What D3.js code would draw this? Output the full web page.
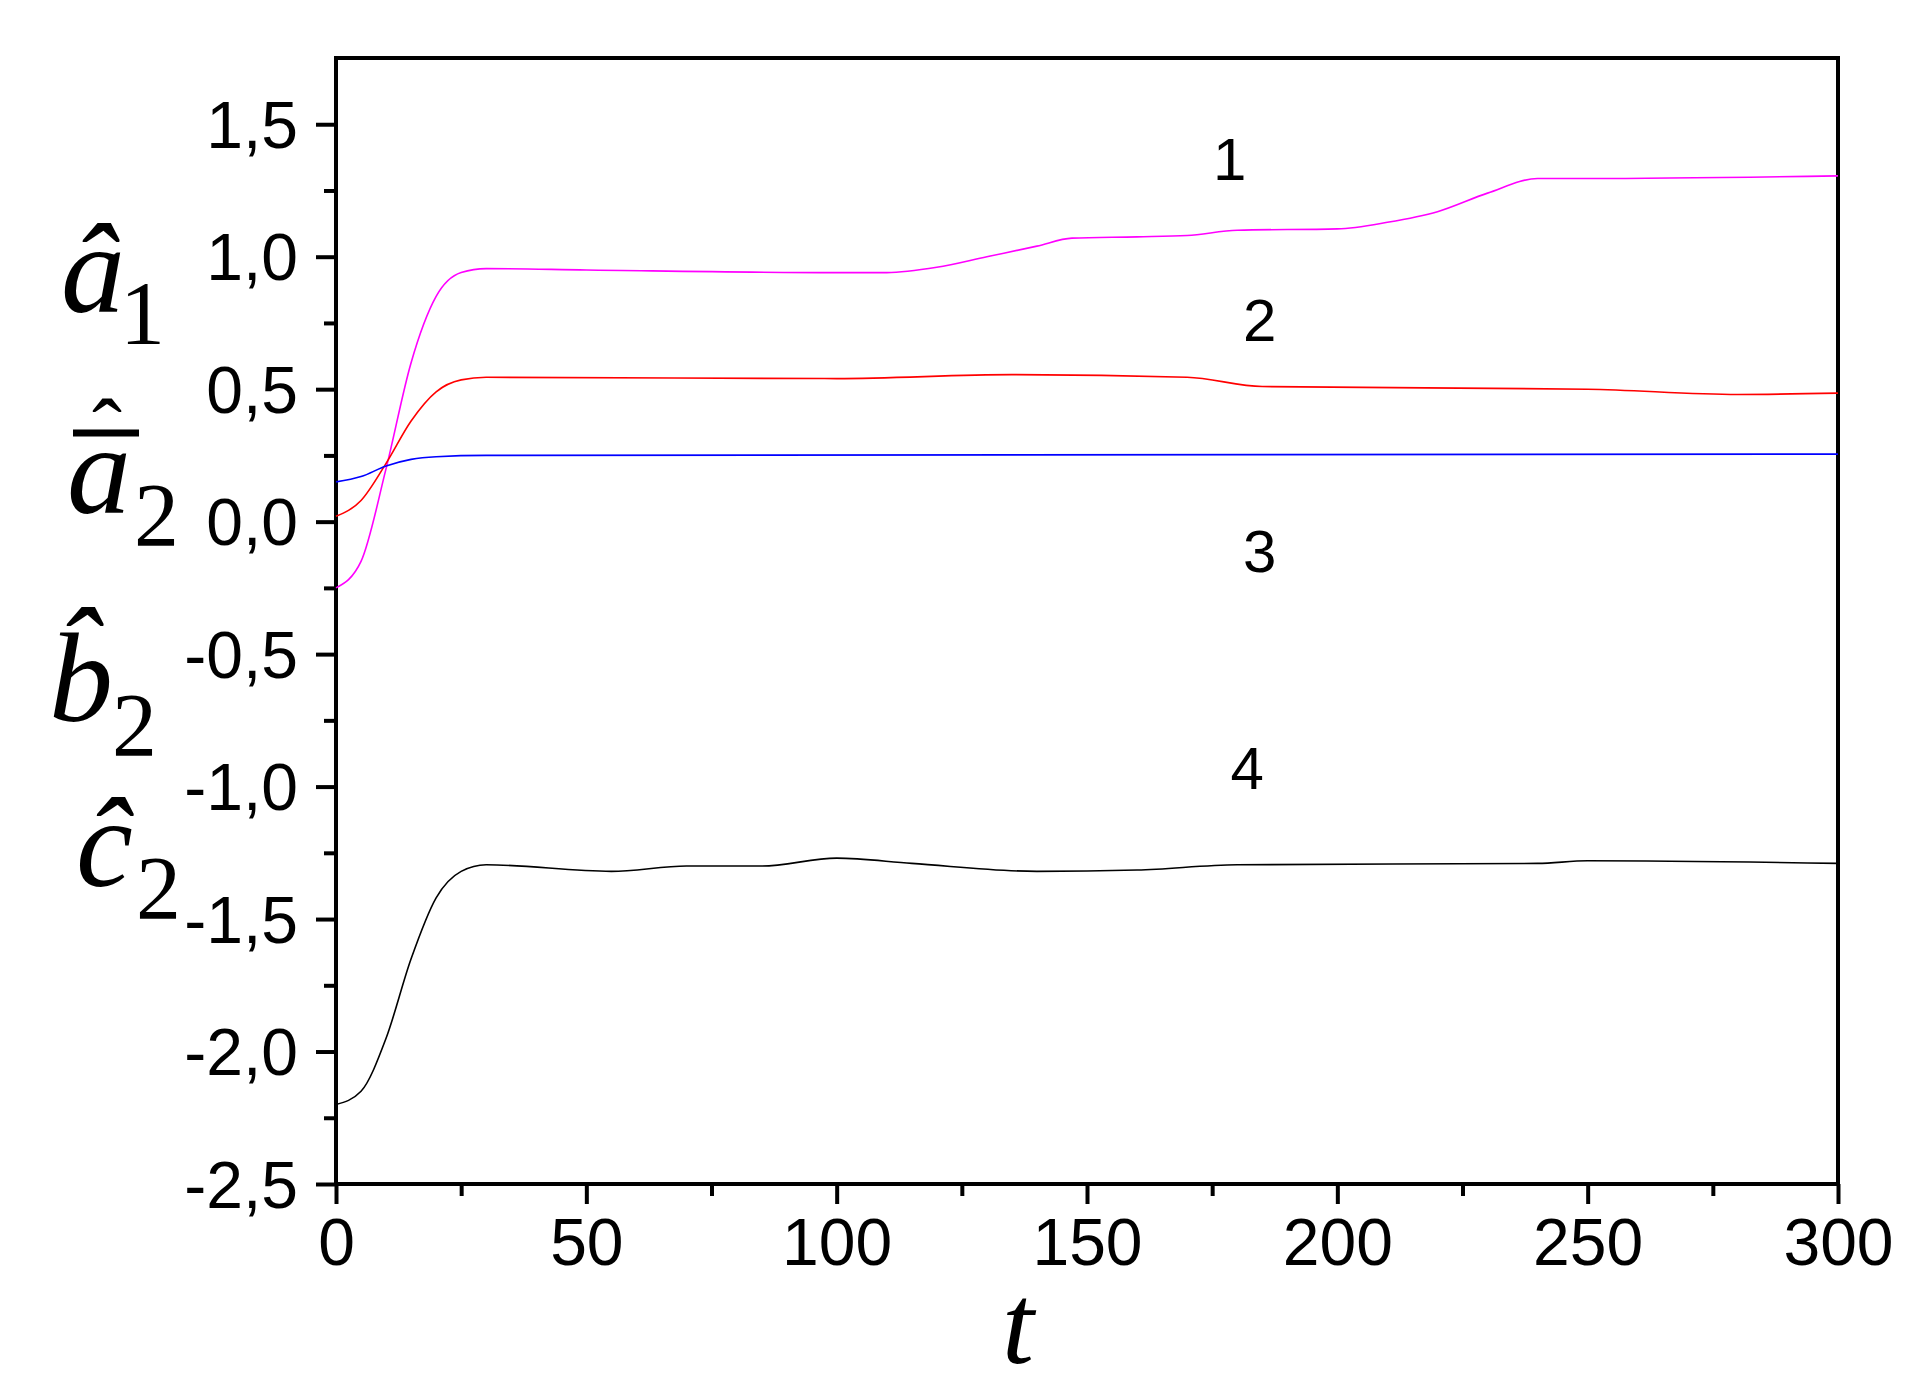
<!DOCTYPE html>
<html><head><meta charset="utf-8">
<script src="https://cdn.jsdelivr.net/npm/d3@7"></script>
<style>body{margin:0;background:#fff}</style></head>
<body><svg id="c" width="1917" height="1390"></svg>
<script>
const t1=[0,5,10,15,20,25,30,50,100,110,120,130,140,147,160,170,180,200,210,220,230,240,250,300];
const v1=[-0.25,-0.15,0.2,0.6,0.85,0.94,0.955,0.95,0.94,0.94,0.96,1.0,1.04,1.07,1.075,1.08,1.1,1.105,1.13,1.17,1.24,1.295,1.295,1.305];
const t2=[0,5,10,15,20,25,30,100,135,170,185,250,280,300];
const v2=[0.02,0.08,0.22,0.38,0.49,0.535,0.545,0.54,0.555,0.545,0.51,0.5,0.48,0.485];
const t3=[0,5,10,15,20,30,300];
const v3=[0.15,0.17,0.21,0.235,0.245,0.25,0.255];
const t4=[0,5,10,15,20,25,30,55,70,85,100,115,140,160,180,240,250,300];
const v4=[-2.2,-2.15,-1.95,-1.65,-1.42,-1.32,-1.295,-1.32,-1.3,-1.3,-1.27,-1.29,-1.32,-1.315,-1.295,-1.29,-1.28,-1.29];
const colors=["#ff00ff","#ff0000","#0000ff","#000000"];
const curveLabels=[{t:178.5,v:1.37,s:"1"},{t:184.5,v:0.76,s:"2"},{t:184.5,v:-0.11,s:"3"},{t:182,v:-0.93,s:"4"}];
const xTicks=[0,50,100,150,200,250,300];
const yTicks=[-2.5,-2,-1.5,-1,-0.5,0,0.5,1,1.5];

const svg=d3.select("#c");
const x=d3.scaleLinear().domain([0,300]).range([336,1838]);
const y=d3.scaleLinear().domain([-2.5,1.75]).range([1184,58]);
const fmt=d=>d3.format(".1f")(d).replace(".",",").replace("−","-");

svg.append("rect").attr("x",336).attr("y",58).attr("width",1502).attr("height",1126).attr("fill","none").attr("stroke","#000").attr("stroke-width",4);

const yAx=svg.append("g").attr("transform","translate(336,0)").call(d3.axisLeft(y).tickValues(yTicks).tickFormat(fmt).tickSize(20).tickSizeOuter(0));
const yMin=svg.append("g").attr("transform","translate(336,0)").call(d3.axisLeft(y).tickValues(d3.range(-2.25,1.75,0.5)).tickFormat("").tickSize(12).tickSizeOuter(0));
const xAx=svg.append("g").attr("transform","translate(0,1184)").call(d3.axisBottom(x).tickValues(xTicks).tickSize(20).tickSizeOuter(0));
const xMin=svg.append("g").attr("transform","translate(0,1184)").call(d3.axisBottom(x).tickValues(d3.range(25,300,50)).tickFormat("").tickSize(12).tickSizeOuter(0));
[yAx,yMin,xAx,xMin].forEach(g=>{g.select(".domain").remove();g.selectAll("line").attr("stroke","#000").attr("stroke-width",4);});
yAx.selectAll("text").attr("font-family","Liberation Sans, Arial").attr("font-size",66).attr("fill","#000").attr("x",-38).attr("dy","0.35em");
xAx.selectAll("text").attr("font-family","Liberation Sans, Arial").attr("font-size",66).attr("fill","#000").attr("y",34).attr("dy","0.71em");

const series=[[t1,v1],[t2,v2],[t3,v3],[t4,v4]];
const line=d3.line().x(d=>x(d[0])).y(d=>y(d[1])).curve(d3.curveMonotoneX);
series.forEach((s,i)=>{
  svg.append("path").datum(s[0].map((t,j)=>[t,s[1][j]])).attr("d",line).attr("fill","none").attr("stroke",colors[i]).attr("stroke-width",1.6);
});
curveLabels.forEach(l=>svg.append("text").attr("x",x(l.t)).attr("y",y(l.v)).attr("dy","0.35em").attr("text-anchor","middle")
  .attr("font-family","Liberation Sans, Arial").attr("font-size",60).text(l.s));

const ml=[{x:61,y:312,b:"â",sx:120,sy:344,s:"1"},{x:67,y:513,b:"a",sx:134,sy:546,s:"2"},{x:49,y:721,b:"b\u0302",sx:112,sy:756,s:"2"},{x:76,y:886,b:"ĉ",sx:136,sy:919,s:"2"}];
ml.forEach(m=>{
  svg.append("text").attr("x",m.x).attr("y",m.y).attr("font-family","Liberation Serif, Times New Roman").attr("font-style","italic").attr("font-size",128).text(m.b);
  svg.append("text").attr("x",m.sx).attr("y",m.sy).attr("font-family","Liberation Serif, Times New Roman").attr("font-size",90).text(m.s);
});
svg.append("text").attr("x",107).attr("y",462).attr("text-anchor","middle").attr("font-family","Liberation Serif, Times New Roman").attr("font-size",90).text("ˆ");
svg.append("line").attr("x1",73).attr("x2",139).attr("y1",433).attr("y2",433).attr("stroke","#000").attr("stroke-width",7);
svg.append("text").attr("x",1018).attr("y",1363).attr("text-anchor","middle").attr("font-family","Liberation Serif, Times New Roman").attr("font-style","italic").attr("font-size",115).text("t");
</script></body></html>
